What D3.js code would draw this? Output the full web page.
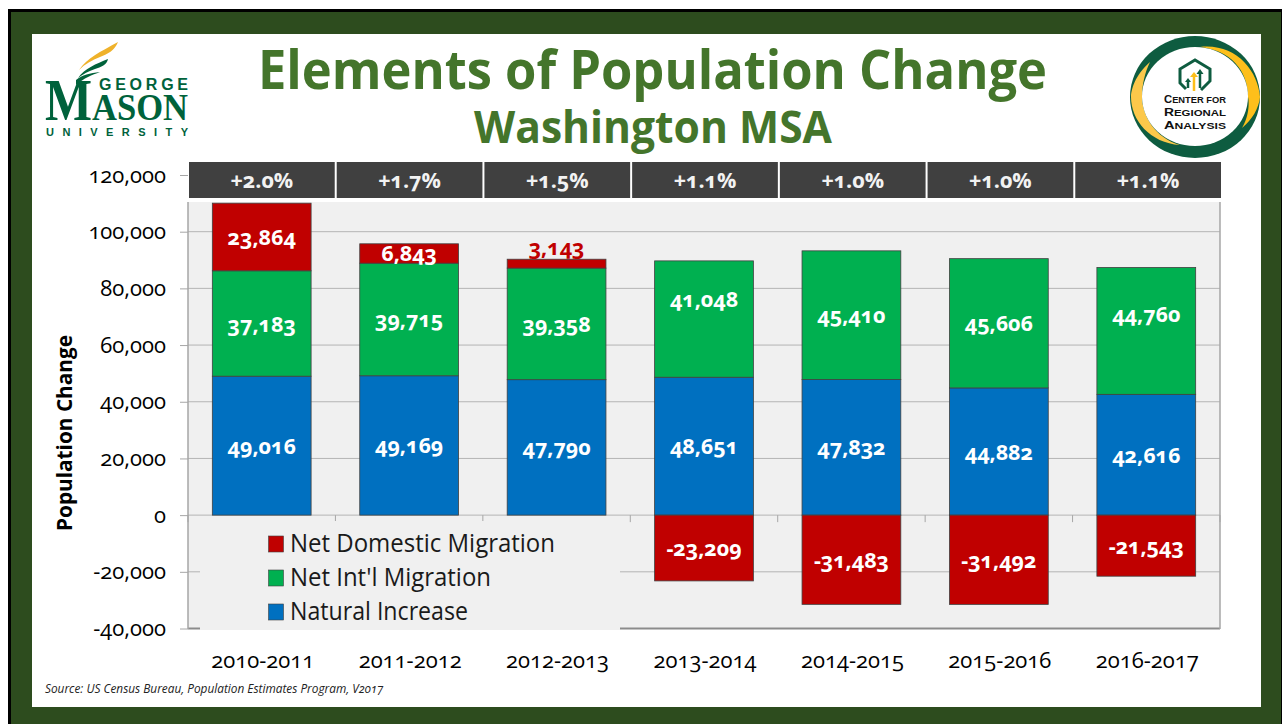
<!DOCTYPE html>
<html>
<head>
<meta charset="utf-8">
<script src="https://cdn.jsdelivr.net/npm/d3@7"></script>
<style>
  html, body { margin: 0; padding: 0; background: #fff; }
  svg { display: block; }
  text { font-family: "Open Sans", "Noto Sans", sans-serif; font-feature-settings: "onum"; }
  .logo text { font-family: "Liberation Sans", sans-serif; font-feature-settings: normal; }
</style>
</head>
<body>
<svg id="chart" width="1283" height="724"></svg>
<script>
const years = ["2010-2011", "2011-2012", "2012-2013", "2013-2014", "2014-2015", "2015-2016", "2016-2017"];
const natural = [49016, 49169, 47790, 48651, 47832, 44882, 42616];
const intl = [37183, 39715, 39358, 41048, 45410, 45606, 44760];
const domestic = [23864, 6843, 3143, -23209, -31483, -31492, -21543];
const growth = ["+2.0%", "+1.7%", "+1.5%", "+1.1%", "+1.0%", "+1.0%", "+1.1%"];
const yTicks = [-40000, -20000, 0, 20000, 40000, 60000, 80000, 100000, 120000];
const legendNames = ["Net Domestic Migration", "Net Int'l Migration", "Natural Increase"];

const RED = "#c00000", GREEN = "#00b050", BLUE = "#0070c0", TITLE = "#44752b";

const svg = d3.select("#chart");
// hyphen instead of the unicode minus, like the original
const fmt = v => d3.format(",")(v).replace("\u2212", "-");

// slide frame
svg.append("rect").attr("x", 8).attr("y", 9).attr("width", 1274).attr("height", 715).attr("fill", "#000");
svg.append("rect").attr("x", 11).attr("y", 12).attr("width", 1270).attr("height", 712).attr("fill", "#2d4c1e");
svg.append("rect").attr("x", 32).attr("y", 34).attr("width", 1229).attr("height", 673).attr("fill", "#fff");

// titles
svg.append("text").attr("x", 258).attr("y", 89)
  .attr("font-size", 54).attr("font-weight", 700).attr("fill", TITLE)
  .attr("textLength", 789).attr("lengthAdjust", "spacingAndGlyphs")
  .text("Elements of Population Change");
svg.append("text").attr("x", 474).attr("y", 143)
  .attr("font-size", 44).attr("font-weight", 700).attr("fill", TITLE)
  .attr("textLength", 358).attr("lengthAdjust", "spacingAndGlyphs")
  .text("Washington MSA");

// scales
const x = d3.scaleBand().domain(years).range([188, 1220]).paddingInner(0.33).paddingOuter(0.165);
const y = d3.scaleLinear().domain([-40000, 120000]).range([628.5, 175]);
const step = x.step();
const stripX = d3.scaleBand().domain(years).range([189, 1221]).paddingInner(0.0135).paddingOuter(0).align(0);

// plot background
svg.append("rect").attr("x", 188).attr("y", 202).attr("width", 1032).attr("height", 427).attr("fill", "#f0f0f0");

// gridlines and y axis
const grid = svg.append("g");
grid.selectAll("line").data(yTicks.filter(d => d !== 120000)).enter().append("line")
  .attr("x1", 188).attr("x2", 1220)
  .attr("y1", d => y(d)).attr("y2", d => y(d))
  .attr("stroke", d => d === -40000 ? "#8c8c8c" : "#b4b4b4")
  .attr("stroke-width", d => d === -40000 ? 2 : 1);

const yAxis = svg.append("g").attr("transform", "translate(188,0)")
  .call(d3.axisLeft(y).tickValues(yTicks).tickSize(8).tickPadding(14).tickFormat(fmt));
yAxis.select(".domain").remove();
yAxis.selectAll("line").attr("stroke", "#a6a6a6");
yAxis.selectAll("text").attr("font-size", 22).attr("fill", "#000");
svg.append("line").attr("x1", 188).attr("x2", 188).attr("y1", 202).attr("y2", 629).attr("stroke", "#a6a6a6").attr("stroke-width", 1.5);
svg.append("line").attr("x1", 1220).attr("x2", 1220).attr("y1", 202).attr("y2", 629).attr("stroke", "#a6a6a6").attr("stroke-width", 1.5);

// category ticks on the zero line
svg.append("g").selectAll("line").data(d3.range(8)).enter().append("line")
  .attr("x1", d => 188 + d * step).attr("x2", d => 188 + d * step)
  .attr("y1", y(0)).attr("y2", y(0) + 7)
  .attr("stroke", "#a6a6a6");

// stacked bars
const table = years.map((d, i) => ({ year: d, natural: natural[i], intl: intl[i], domestic: domestic[i] }));
const series = d3.stack().keys(["natural", "intl", "domestic"]).offset(d3.stackOffsetDiverging)(table);
const colors = { natural: BLUE, intl: GREEN, domestic: RED };

const layers = svg.append("g").selectAll("g").data(series).enter().append("g").attr("fill", d => colors[d.key]);
layers.selectAll("rect").data(d => d).enter().append("rect")
  .attr("x", d => x(d.data.year))
  .attr("width", x.bandwidth())
  .attr("y", d => y(Math.max(d[0], d[1])))
  .attr("height", d => Math.abs(y(d[0]) - y(d[1])))
  .attr("stroke", "#404040").attr("stroke-width", 0.8);

// value labels, two of the green ones sit high in the original
const intlNudge = { "2013-2014": -20, "2016-2017": -17 };
const labels = svg.append("g").attr("text-anchor", "middle").attr("font-size", 21.5).attr("font-weight", 700);
series.forEach(s => {
  s.forEach(d => {
    const top = y(Math.max(d[0], d[1])), bottom = y(Math.min(d[0], d[1]));
    const small = bottom - top < 12;
    const nudge = s.key === "intl" ? (intlNudge[d.data.year] || 0) : 0;
    labels.append("text")
      .attr("x", x(d.data.year) + x.bandwidth() / 2)
      .attr("y", small ? top - 4 : (top + bottom) / 2 + 8 + nudge)
      .attr("fill", small ? RED : "#fff")
      .text(fmt(d.data[s.key]));
  });
});

// growth strip
const strip = svg.append("g");
strip.selectAll("rect").data(years).enter().append("rect")
  .attr("x", d => stripX(d))
  .attr("y", 162).attr("width", stripX.bandwidth()).attr("height", 36).attr("fill", "#404040");
strip.selectAll("text").data(growth).enter().append("text")
  .attr("x", (d, i) => stripX(years[i]) + stripX.bandwidth() / 2).attr("y", 188)
  .attr("text-anchor", "middle").attr("font-size", 21.5).attr("font-weight", 700).attr("fill", "#f2f2f2")
  .text(d => d);

// category labels
svg.append("g").selectAll("text").data(years).enter().append("text")
  .attr("x", d => x(d) + x.bandwidth() / 2 + 1).attr("y", 668)
  .attr("text-anchor", "middle").attr("font-size", 22).attr("fill", "#000")
  .text(d => d);

// y title
svg.append("text").attr("transform", "translate(72,433) rotate(-90)")
  .attr("text-anchor", "middle").attr("font-size", 21).attr("font-weight", 700)
  .attr("textLength", 196).attr("lengthAdjust", "spacingAndGlyphs")
  .text("Population Change");

// legend
const legendWidths = [265, 201, 178];
svg.append("rect").attr("x", 200).attr("y", 521).attr("width", 420).attr("height", 109).attr("fill", "#f0f0f0");
svg.append("rect").attr("x", 200).attr("y", 630).attr("width", 420).attr("height", 3).attr("fill", "#fff");
const legend = svg.append("g").selectAll("g").data(legendNames).enter().append("g")
  .attr("transform", (d, i) => `translate(268.5,${536 + i * 34})`);
legend.append("rect").attr("width", 15).attr("height", 16)
  .attr("fill", (d, i) => [RED, GREEN, BLUE][i]).attr("stroke", "#404040").attr("stroke-width", 0.6);
legend.append("text").attr("x", 21.5).attr("y", 16).attr("font-size", 25).attr("fill", "#1a1a1a")
  .attr("textLength", (d, i) => legendWidths[i]).attr("lengthAdjust", "spacingAndGlyphs").text(d => d);

// source
svg.append("text").attr("x", 45).attr("y", 693).attr("font-size", 12).attr("font-style", "italic").attr("fill", "#222")
  .attr("textLength", 338).attr("lengthAdjust", "spacingAndGlyphs")
  .text("Source:  US Census Bureau, Population Estimates Program, V2017");

// George Mason logo
const GM = "#00623b";
const gm = svg.append("g").attr("class", "logo");
gm.append("path").attr("d", "M79,70 C87,58 100,52 118,42 C115,50 108,54 100,57 C92,60 85,64 79,70Z").attr("fill", "#efb22b");
gm.append("path").attr("d", "M78,78 C85,68 96,64 108,59 C107,65 101,67 95,69 C89,71 83,74 78,78Z").attr("fill", GM);
gm.append("path").attr("d", "M76,80 C82,75 90,73 100,72 C92,75 84,78 76,85Z").attr("fill", GM);
gm.append("text").attr("x", 99).attr("y", 90).attr("font-size", 16).attr("font-weight", 700)
  .attr("textLength", 89).attr("fill", GM).text("GEORGE");
gm.append("text").attr("x", 45).attr("y", 120).attr("font-size", 60).attr("font-weight", 700)
  .attr("textLength", 47).attr("lengthAdjust", "spacingAndGlyphs")
  .attr("fill", GM).style("font-family", "'Liberation Serif'").text("M");
gm.append("text").attr("x", 92).attr("y", 120).attr("font-size", 38).attr("font-weight", 700)
  .attr("textLength", 96).attr("lengthAdjust", "spacingAndGlyphs")
  .attr("fill", GM).style("font-family", "'Liberation Serif'").text("ASON");
gm.append("text").attr("x", 46).attr("y", 136).attr("font-size", 11).attr("font-weight", 700)
  .attr("textLength", 142).attr("fill", GM).text("UNIVERSITY");

// Center for Regional Analysis logo
const cra = svg.append("g").attr("class", "logo");
cra.append("ellipse").attr("cx", 1195).attr("cy", 97).attr("rx", 65).attr("ry", 61).attr("fill", "#0e5c40");
cra.append("path").attr("d", "M1200,47 C1235,43 1258,70 1260,97 C1259,108 1252,120 1242,128 C1250,115 1249,100 1248,97 C1248,70 1230,50 1200,47Z").attr("fill", "#fdbf1b");
cra.append("path").attr("d", "M1150,62 C1135,75 1131,90 1131,97 C1131,120 1150,143 1180,145 C1155,138 1142,115 1142,97 C1142,85 1145,72 1150,62Z").attr("fill", "#fcc84a");
cra.append("ellipse").attr("cx", 1195).attr("cy", 96.5).attr("rx", 53).attr("ry", 49.5).attr("fill", "#fff");
cra.append("path").attr("d", "M1186,89 L1180,83 L1180,69 L1195,60 L1210,69 L1210,81 L1201,90")
  .attr("fill", "none").attr("stroke", "#0e5c40").attr("stroke-width", 3);
cra.append("line").attr("x1", 1194).attr("x2", 1194).attr("y1", 76).attr("y2", 91).attr("stroke", "#fdbf1b").attr("stroke-width", 2.5);
cra.append("path").attr("d", "M1190,77 L1194,72 L1198,77Z").attr("fill", "#fdbf1b");
cra.append("line").attr("x1", 1200).attr("x2", 1200).attr("y1", 73).attr("y2", 88).attr("stroke", "#0e5c40").attr("stroke-width", 2.5);
cra.append("path").attr("d", "M1196.5,74 L1200,69 L1203.5,74Z").attr("fill", "#0e5c40");
cra.append("line").attr("x1", 1188).attr("x2", 1188).attr("y1", 81).attr("y2", 88).attr("stroke", "#0e5c40").attr("stroke-width", 2.5);
cra.append("path").attr("d", "M1185,82 L1188,78 L1191,82Z").attr("fill", "#0e5c40");
const craLines = [["C", "ENTER FOR", 103], ["R", "EGIONAL", 116], ["A", "NALYSIS", 129]];
const craText = cra.append("g").attr("fill", "#111").attr("font-weight", 700);
craLines.forEach(l => {
  const t = craText.append("text").attr("x", 1164).attr("y", l[2]).attr("font-size", 9.5)
    .attr("textLength", 62).attr("lengthAdjust", "spacingAndGlyphs");
  t.append("tspan").attr("font-size", 11.5).text(l[0]);
  t.append("tspan").text(l[1]);
});
</script>
</body>
</html>
